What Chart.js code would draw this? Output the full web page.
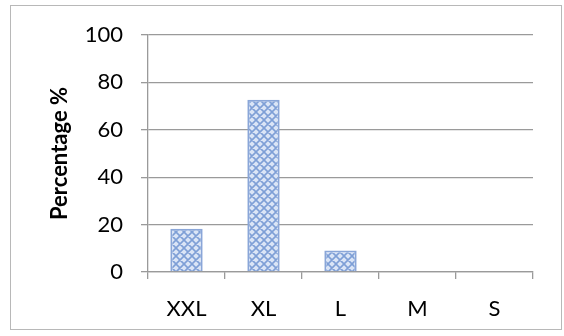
<!DOCTYPE html>
<html>
<head>
<meta charset="utf-8">
<script src="https://cdn.jsdelivr.net/npm/chart.js@4"></script>
<style>
  html, body { margin: 0; padding: 0; background: #ffffff; }
  #wrap { width: 564px; height: 336px; }
</style>
</head>
<body>
<div id="wrap"><canvas id="chart" width="564" height="336"></canvas></div>
<script>
// Size distribution (percentage of respondents)
const sizes = ['XXL', 'XL', 'L', 'M', 'S'];
const percentages = [18.2, 72.7, 9.1, 0, 0];
const yTicks = [0, 20, 40, 60, 80, 100];

// Crosshatch fill for the bars
function makeHatch() {
  const t = document.createElement('canvas');
  t.width = 8; t.height = 8;
  const c = t.getContext('2d');
  c.fillStyle = '#dbe5f6';
  c.fillRect(0, 0, 8, 8);
  c.strokeStyle = '#7e9fd6';
  c.lineWidth = 1.6;
  c.beginPath();
  c.moveTo(-2, -2); c.lineTo(10, 10);
  c.moveTo(-2, 6); c.lineTo(2, 10);
  c.moveTo(6, -2); c.lineTo(10, 2);
  c.moveTo(10, -2); c.lineTo(-2, 10);
  c.moveTo(2, -2); c.lineTo(-2, 2);
  c.moveTo(10, 6); c.lineTo(6, 10);
  c.stroke();
  return document.getElementById('chart').getContext('2d').createPattern(t, 'repeat');
}

// Thin frame around the whole chart
const frame = {
  id: 'frame',
  beforeDraw(chart) {
    const ctx = chart.ctx;
    ctx.save();
    ctx.strokeStyle = '#b8b8b8';
    ctx.lineWidth = 1;
    ctx.strokeRect(10.5, 5.5, 551, 324);
    ctx.restore();
  }
};

const font = { family: 'Lato, "Open Sans", sans-serif', size: 22 };

new Chart(document.getElementById('chart'), {
  type: 'bar',
  data: {
    labels: sizes,
    datasets: [{
      data: percentages,
      backgroundColor: makeHatch(),
      borderColor: '#8aa6d8',
      borderWidth: 2,
      categoryPercentage: 1,
      barPercentage: 0.42
    }]
  },
  options: {
    responsive: false,
    animation: false,
    layout: { padding: { left: 10, top: 35, right: 31, bottom: 14 } },
    plugins: { legend: { display: false }, tooltip: { enabled: false } },
    scales: {
      x: {
        grid: { offset: true, drawOnChartArea: false, tickLength: 7, color: '#9a9a9a', lineWidth: 1.3 },
        border: { color: '#9a9a9a', width: 1.3 },
        ticks: { color: '#000', font: font, padding: 17 },
        afterFit(s) { s.height = 50; }
      },
      y: {
        min: 0, max: 100,
        afterBuildTicks(s) { s.ticks = yTicks.map(v => ({ value: v })); },
        grid: { tickLength: 7, color: '#9a9a9a', lineWidth: 1.3 },
        border: { color: '#9a9a9a', width: 1.3 },
        ticks: { color: '#000', font: font, padding: 18 },
        title: {
          display: true,
          text: 'Percentage %',
          color: '#000',
          font: { family: font.family, size: 22, weight: 'bold' },
          padding: { top: 37, bottom: 0 }
        },
        afterFit(s) { s.width = 138; }
      }
    }
  },
  plugins: [frame]
});
</script>
</body>
</html>
